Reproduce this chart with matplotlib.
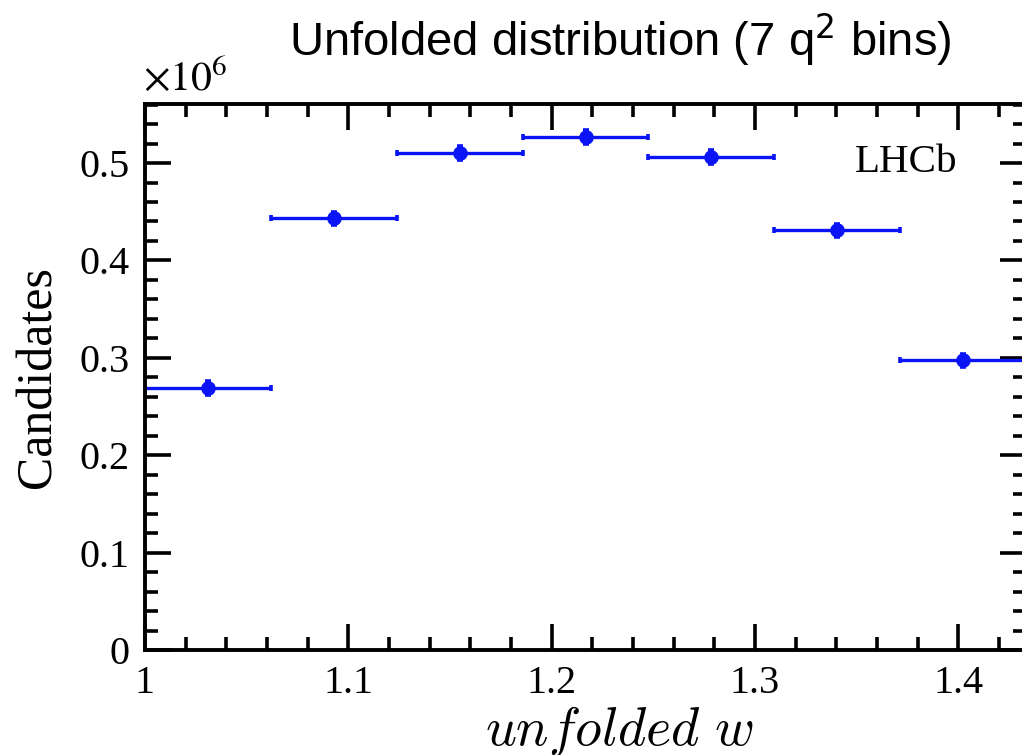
import numpy as np
import matplotlib
matplotlib.use("Agg")
import matplotlib.pyplot as plt
from matplotlib.ticker import MultipleLocator

# bin edges in unfolded w and unfolded yields (in units of 1e6)
bin_edges = [1.0, 1.0619, 1.1238, 1.1857, 1.2476, 1.3095, 1.3714, 1.4333]
counts    = [0.2687, 0.4432, 0.5100, 0.5267, 0.5063, 0.4310, 0.2975]
errors    = [0.0070, 0.0070, 0.0070, 0.0070, 0.0070, 0.0065, 0.0065]

edges   = np.array(bin_edges)
centres = 0.5 * (edges[:-1] + edges[1:])
halfw   = 0.5 * np.diff(edges)

plt.rcParams["font.family"] = ["Liberation Serif", "DejaVu Serif"]

fig = plt.figure(figsize=(10.22, 7.55), dpi=100)
ax = fig.add_axes([145 / 1022, 105 / 755, 881 / 1022, 546 / 755])

ax.errorbar(centres, counts, xerr=halfw, yerr=errors, fmt="o", color="#0a14f5",
            ms=9.5, elinewidth=2.4, capsize=2, capthick=2.6)

ax.set_xlim(1.0, edges[-1])
ax.set_ylim(0, 0.5606)

ax.xaxis.set_major_locator(MultipleLocator(0.1))
ax.xaxis.set_minor_locator(MultipleLocator(0.02))
ax.yaxis.set_major_locator(MultipleLocator(0.1))
ax.yaxis.set_minor_locator(MultipleLocator(0.02))
ax.xaxis.set_major_formatter(plt.FuncFormatter(lambda v, p: f"{v:g}"))
ax.yaxis.set_major_formatter(plt.FuncFormatter(lambda v, p: f"{v:g}"))

ax.tick_params(which="both", direction="in", top=True, right=True,
               width=2.6, labelsize=29)
ax.tick_params(which="major", length=19)
ax.tick_params(which="minor", length=9.5)
ax.tick_params(axis="y", pad=11)
ax.tick_params(axis="x", pad=11)
for s in ax.spines.values():
    s.set_linewidth(2.8)

ax.set_ylabel("Candidates", fontsize=36)
ax.yaxis.set_label_coords(-0.095, 0.5)

fig.text(485 / 1022, (755 - 745) / 755, r"$unfolded\ w$", fontsize=39,
         math_fontfamily="cm", ha="left", va="baseline")

fig.text(143 / 1022, (755 - 90) / 755, r"$\times10^{6}$", fontsize=30,
         math_fontfamily="stix", ha="left", va="baseline")

fig.text(855 / 1022, (755 - 172) / 755, "LHCb", fontsize=29.5,
         ha="left", va="baseline")

fig.text(620 / 1022, (755 - 55) / 755, "Unfolded distribution (7 q$^{2}$ bins)",
         fontsize=34, family="Liberation Sans", math_fontfamily="dejavusans",
         ha="center", va="baseline")

fig.savefig("out.png", dpi=100)
